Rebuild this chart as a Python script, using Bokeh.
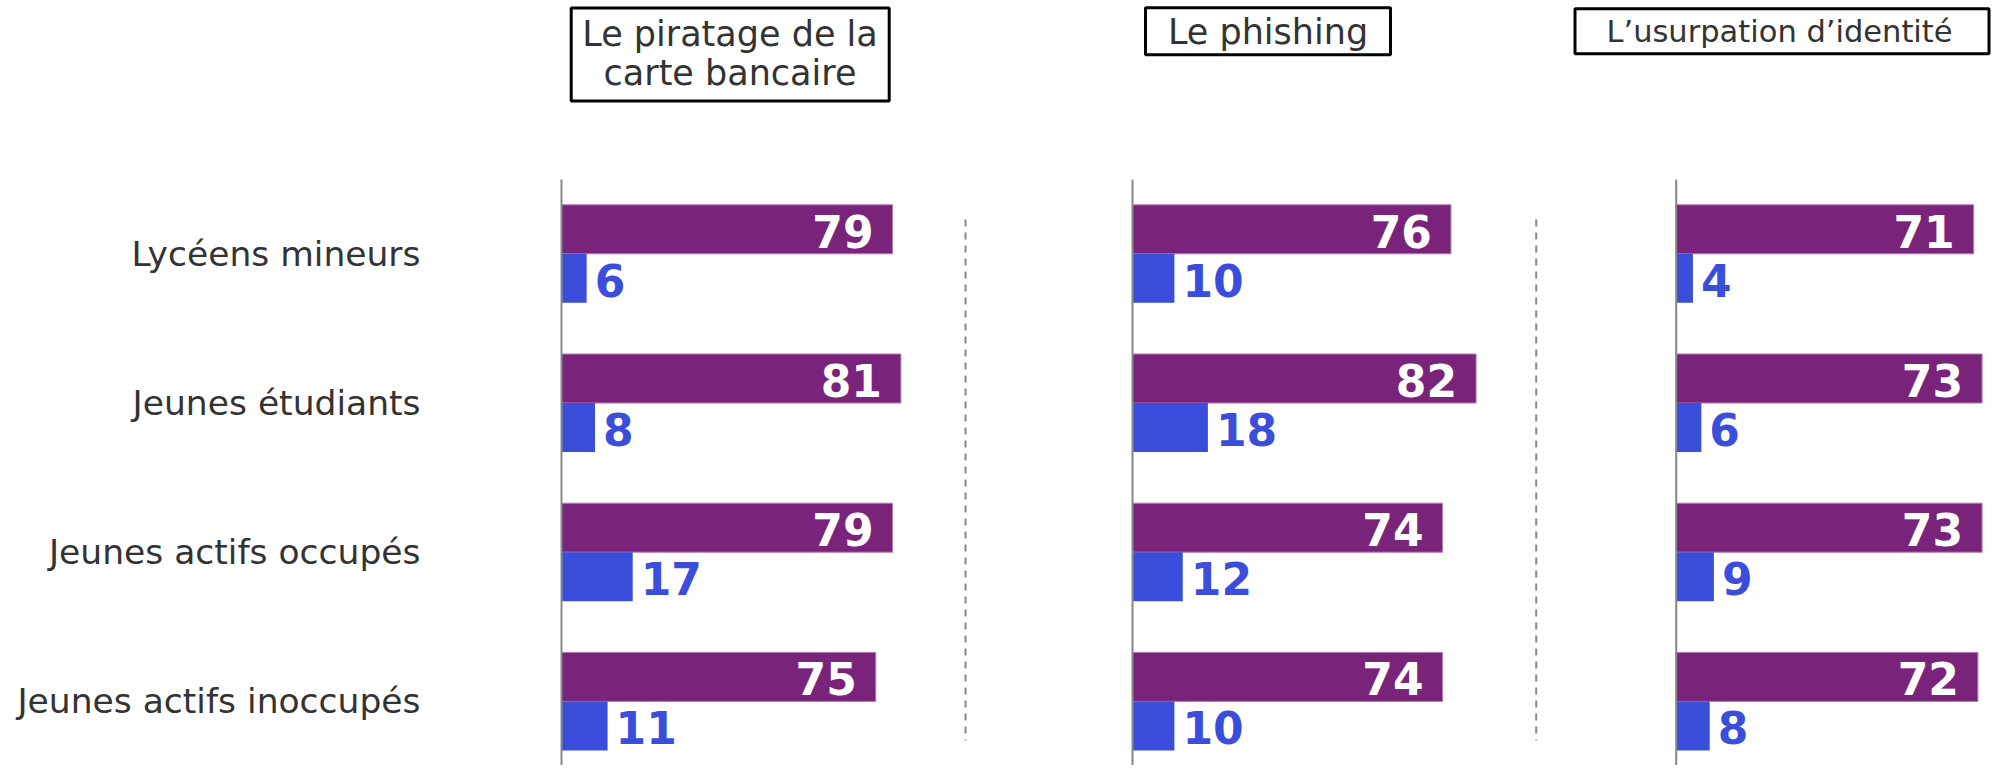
from bokeh.plotting import figure
from bokeh.layouts import row
from bokeh.models import Range1d
from bokeh.core.properties import value
from bokeh.embed import file_html
from bokeh.resources import INLINE

# ---------------- data ----------------
categories = ["Lycéens mineurs", "Jeunes étudiants", "Jeunes actifs occupés", "Jeunes actifs inoccupés"]
panel_titles = ["Le piratage de la\ncarte bancaire", "Le phishing", "L\u2019usurpation d\u2019identité"]
series_purple = [
    [79, 81, 79, 75],
    [76, 82, 74, 74],
    [71, 73, 73, 72],
]
series_blue = [
    [6, 8, 17, 11],
    [10, 18, 12, 10],
    [4, 6, 9, 8],
]

# ---------------- layout / style ----------------
PURPLE = "#7A237A"
BLUE = "#3B4EDB"
TEXT = "#333333"
GREY = "#888888"
FONT = "DejaVu Sans"

PX_PER_UNIT = 4.19          # horizontal scale (px per value unit)
ROW_PX = 149.2              # vertical distance between category groups
ROW0_PX = 253.3             # image y of first group centre
ORIGIN_X, ORIGIN_Y = 0, 0   # image position of the layout's top-left corner
FIG_H = 765
BAR_H = 49 / ROW_PX

fig_widths = [992, 560, 439]
axis_img_x = [561, 1132, 1675.7]
title_sizes = ["35px", "35px", "30.5px"]
# title boxes (image px): centre x, centre y, width, height
title_boxes = [(729.7, 54.0, 318, 93), (1267.5, 30.8, 245, 47), (1781.5, 30.8, 414, 45)]
title_text_y = [53.0, 31.0, 31.0]
title_text_x = [729.5, 1267.5, 1779.0]
sep_img_x = [965, 1535.7, None]


def py(img_y):
    return (img_y - ROW0_PX) / ROW_PX


ys = list(range(len(categories)))
y_range_start = py(ORIGIN_Y + FIG_H)
y_range_end = py(ORIGIN_Y)

figs = []
left = ORIGIN_X
for k in range(3):
    w = fig_widths[k]
    x0 = -(axis_img_x[k] - left) / PX_PER_UNIT
    x1 = x0 + w / PX_PER_UNIT
    left += w
    p = figure(width=w, height=FIG_H,
               x_range=Range1d(x0, x1), y_range=Range1d(y_range_start, y_range_end),
               output_backend="svg", toolbar_location=None, min_border=0,
               outline_line_color=None, background_fill_color="white",
               border_fill_color="white")
    p.xaxis.visible = False
    p.yaxis.visible = False
    p.xgrid.visible = False
    p.ygrid.visible = False

    def dx(img_x, k=k):
        return (img_x - axis_img_x[k]) / PX_PER_UNIT

    # bars
    yp = [y - BAR_H / 2 for y in ys]
    yb = [y + BAR_H / 2 for y in ys]
    p.hbar(y=yp, right=series_purple[k], left=0, height=BAR_H,
           fill_color=PURPLE, line_color="#B07AB0", line_width=1)
    p.hbar(y=yb, right=series_blue[k], left=0, height=BAR_H,
           fill_color=BLUE, line_color=None)

    # value labels
    p.text(x=series_purple[k], y=yp, text=[str(v) for v in series_purple[k]],
           text_align="right", text_baseline="middle", x_offset=-19, y_offset=2,
           text_color="white", text_font=value(FONT), text_font_style="bold",
           text_font_size="44px")
    p.text(x=series_blue[k], y=yb, text=[str(v) for v in series_blue[k]],
           text_align="left", text_baseline="middle", x_offset=8, y_offset=2,
           text_color=BLUE, text_font=value(FONT), text_font_style="bold",
           text_font_size="44px")

    # vertical axis line
    p.segment(x0=[0], y0=[py(179)], x1=[0], y1=[py(ORIGIN_Y + FIG_H + 10)],
              line_color=GREY, line_width=2)

    # separator
    if sep_img_x[k] is not None:
        sx = dx(sep_img_x[k])
        p.segment(x0=[sx], y0=[py(219)], x1=[sx], y1=[py(740)],
                  line_color=GREY, line_width=2, line_dash="7 6")

    # title box
    cx, cy, bw, bh = title_boxes[k]
    p.rect(x=[dx(cx)], y=[py(cy)], width=bw, height=bh,
           width_units="screen", height_units="screen",
           fill_color="white", line_color="black", line_width=3)
    p.text(x=[dx(title_text_x[k])], y=[py(title_text_y[k])], text=[panel_titles[k]],
           text_align="center", text_baseline="middle",
           text_color=TEXT, text_font=value(FONT), text_font_size=title_sizes[k],
           text_line_height=0.97)

    # category labels on first panel
    if k == 0:
        p.text(x=[0] * len(ys), y=ys, text=categories, x_offset=-141,
               text_align="right", text_baseline="middle",
               text_color=TEXT, text_font=value(FONT), text_font_size="34.5px")

    figs.append(p)

layout = row(*figs, spacing=0)
open("out.html", "w").write(file_html(layout, INLINE))
